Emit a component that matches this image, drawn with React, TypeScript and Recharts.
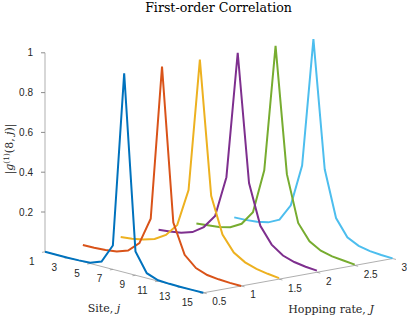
import React from 'react'
import { ComposedChart, Line, Scatter, XAxis, YAxis, ReferenceLine } from 'recharts'

// sites j and hopping rates J
const sites = [1, 2, 3, 4, 5, 6, 7, 8, 9, 10, 11, 12, 13, 14, 15]
const hoppingRates = [0.5, 1, 1.5, 2, 2.5, 3]

// |g1(8, j)| for each hopping rate
const gJ05 = [0, 0, 0, 0.001, 0.004, 0.025, 0.12, 1, 0.12, 0.025, 0.004, 0.001, 0, 0, 0]
const gJ10 = [0, 0.001, 0.004, 0.011, 0.031, 0.083, 0.22, 1, 0.23, 0.083, 0.031, 0.011, 0.004, 0.001, 0]
const gJ15 = [0.005, 0.012, 0.022, 0.04, 0.075, 0.14, 0.33, 1, 0.33, 0.15, 0.075, 0.04, 0.022, 0.012, 0.005]
const gJ20 = [0.008, 0.013, 0.022, 0.04, 0.08, 0.15, 0.36, 1, 0.36, 0.16, 0.08, 0.04, 0.022, 0.013, 0.008]
const gJ25 = [0.004, 0.01, 0.016, 0.03, 0.062, 0.135, 0.36, 1, 0.37, 0.14, 0.062, 0.03, 0.016, 0.01, 0.004]
const gJ30 = [0.001, 0.003, 0.008, 0.02, 0.048, 0.135, 0.35, 1, 0.36, 0.13, 0.048, 0.02, 0.008, 0.003, 0.001]
const seriesValues = [gJ05, gJ10, gJ15, gJ20, gJ25, gJ30]

// tick labels
const siteTicks = [1, 3, 5, 7, 9, 11, 13, 15]
const hopTicks = ['0.5', '1', '1.5', '2', '2.5', '3']
const zTicks = [0.2, 0.4, 0.6, 0.8, 1]

const colors = ['#0072BD', '#D95319', '#EDB120', '#7E2F8E', '#77AC30', '#4DBEEE']

// orthographic view of the 3-D axes, flattened onto x (px) / y (z units)
const SITE_DX = 11.31
const SITE_DY = 2.93
const HOP_DX = 75.7
const HOP_DY = 13.7
const Z_PX = 199

const proj = (j: number, J: number, z: number) => ({
  x: (j - 1) * SITE_DX + (J - 0.5) * HOP_DX,
  y: z + ((J - 0.5) * HOP_DY - (j - 1) * SITE_DY) / Z_PX,
})

const tickFont = { fontSize: 10, fill: '#262626', fontFamily: '"Liberation Sans", Arial, sans-serif' }
const axisGrey = '#8c8c8c'

export default function App() {
  const lines = hoppingRates.map((J, i) => ({
    J,
    color: colors[i],
    points: sites.map((j, k) => proj(j, J, seriesValues[i][k])),
  }))

  const siteLabelPts = siteTicks.map((j) => ({ ...proj(j, 0.5, 0), label: String(j) }))
  const hopLabelPts = hopTicks.map((t) => ({ ...proj(15, Number(t), 0), label: t }))

  const siteStart = proj(1, 0.5, 0)
  const siteEnd = proj(15, 0.5, 0)
  const hopEnd = proj(15, 3, 0)
  const zTop = proj(1, 0.5, 1)

  return (
    <div style={{ position: 'absolute', left: 0, top: 0, width: 407, height: 317 }}>
      <ComposedChart width={407} height={317} margin={{ top: 13, right: 7, bottom: 5.5, left: 0 }}>
        <XAxis dataKey="x" type="number" domain={[0, 355]} hide />
        <YAxis
          type="number"
          domain={[-0.3, 1.2]}
          ticks={zTicks}
          width={45}
          axisLine={false}
          tickLine={{ stroke: axisGrey }}
          tickSize={4}
          tickMargin={8}
          tick={tickFont}
          allowDataOverflow
        />
        <ReferenceLine segment={[siteStart, zTop]} stroke={axisGrey} strokeWidth={0.7} ifOverflow="visible" />
        <ReferenceLine segment={[siteStart, siteEnd]} stroke={axisGrey} strokeWidth={0.7} ifOverflow="visible" />
        <ReferenceLine segment={[siteEnd, hopEnd]} stroke={axisGrey} strokeWidth={0.7} ifOverflow="visible" />
        {siteTicks.map((j) => (
          <ReferenceLine
            key={'st' + j}
            segment={[proj(j, 0.5, 0), proj(j, 0.46, 0)]}
            stroke={axisGrey}
            strokeWidth={0.7}
            ifOverflow="visible"
          />
        ))}
        {hopTicks.map((t) => (
          <ReferenceLine
            key={'ht' + t}
            segment={[proj(15, Number(t), 0), proj(15.3, Number(t), 0)]}
            stroke={axisGrey}
            strokeWidth={0.7}
            ifOverflow="visible"
          />
        ))}
        {lines
          .slice()
          .reverse()
          .map((l) => (
            <Line
              key={l.J}
              data={l.points}
              dataKey="y"
              type="linear"
              stroke={l.color}
              strokeWidth={2}
              dot={false}
              activeDot={false}
              isAnimationActive={false}
            />
          ))}
        <Scatter
          data={siteLabelPts}
          dataKey="y"
          isAnimationActive={false}
          shape={(p: any) => (
            <text x={p.cx - 10.5} y={p.cy + 9.5} textAnchor="end" dominantBaseline="central" {...tickFont}>
              {p.payload.label}
            </text>
          )}
        />
        <Scatter
          data={hopLabelPts}
          dataKey="y"
          isAnimationActive={false}
          shape={(p: any) => (
            <text x={p.cx + 9} y={p.cy + 9} textAnchor="start" dominantBaseline="central" {...tickFont}>
              {p.payload.label}
            </text>
          )}
        />
      </ComposedChart>
      <svg
        width={407}
        height={317}
        style={{ position: 'absolute', left: 0, top: 0, pointerEvents: 'none' }}
        fontFamily='"DejaVu Serif", serif'
        fill="#000"
      >
        <text x={218.5} y={11.5} textAnchor="middle" fontSize={12.6}>
          First-order Correlation
        </text>
        <text transform="translate(13,149) rotate(-90)" textAnchor="middle" fontSize={11} fill="#262626">
          |<tspan fontStyle="italic">g</tspan>
          <tspan fontSize={7.5} dy={-4}>(1)</tspan>
          <tspan dy={4}>(8,</tspan>
          <tspan fontStyle="italic"> j</tspan>)|
        </text>
        <text x={104} y={312} textAnchor="middle" fontSize={11} fill="#262626">
          Site, <tspan fontStyle="italic">j</tspan>
        </text>
        <text x={331} y={313} textAnchor="middle" fontSize={11} fill="#262626">
          Hopping rate, <tspan fontStyle="italic">J</tspan>
        </text>
      </svg>
    </div>
  )
}
